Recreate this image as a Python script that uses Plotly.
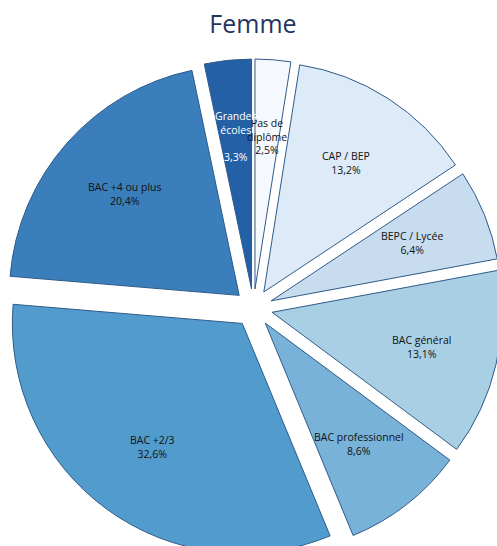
import math
import plotly.graph_objects as go

categories = ["Pas de diplôme", "CAP / BEP", "BEPC / Lycée", "BAC général",
              "BAC professionnel", "BAC +2/3", "BAC +4 ou plus", "Grandes écoles"]
display_labels = ["Pas de<br>diplôme", "CAP / BEP", "BEPC / Lycée", "BAC général",
                  "BAC professionnel", "BAC +2/3", "BAC +4 ou plus", "Grandes<br>écoles<br> "]
values = [2.5, 13.2, 6.4, 13.1, 8.6, 32.6, 20.4, 3.3]

colors = ["#f5f9fe", "#ddeaf7", "#c8dcef", "#a9cfe5", "#78b2d8", "#529ccd", "#3a7ebc", "#2460a5"]
text_colors = ["#111111"] * 7 + ["#ffffff"]

W, H = 510, 560
cx, cy, half = 253.5, 308, 249
PULL = 0.083
R = half / (1 + PULL)
LABEL_R = R * PULL + 0.665 * R

fig = go.Figure(go.Pie(
    labels=categories,
    values=values,
    textinfo="none",
    sort=False,
    direction="clockwise",
    rotation=0,
    pull=[PULL] * len(values),
    marker=dict(colors=colors, line=dict(color="#2f5b8a", width=1)),
    domain=dict(x=[(cx - half) / W, (cx + half) / W],
                y=[(H - cy - half) / H, (H - cy + half) / H]),
    showlegend=False,
))

# labels placed at the middle of each slice (angles derived from the values)
total = sum(values)
cum = 0.0
for lab, v, tc in zip(display_labels, values, text_colors):
    mid = (cum + v / 2) / total * 2 * math.pi
    cum += v
    px = cx + LABEL_R * math.sin(mid)
    py = cy - LABEL_R * math.cos(mid)
    fig.add_annotation(
        x=px / W, y=1 - py / H, xref="paper", yref="paper",
        text=f"{lab}<br>{v:.1f}%".replace(".", ","),
        showarrow=False, align="center", xanchor="center", yanchor="middle",
        font=dict(family="Open Sans", size=10.5, color=tc),
    )

fig.update_layout(
    width=W, height=H,
    margin=dict(l=0, r=0, t=0, b=0),
    paper_bgcolor="white",
    separators=", ",
    title=dict(text="Femme", x=253 / W, xanchor="center", y=1 - 24 / H, yanchor="middle",
               yref="container", font=dict(family="Open Sans", size=25, color="#1f3560")),
)

fig.write_html("out.html", config={"displayModeBar": False},
               post_script="document.body.style.margin='0';document.body.style.overflow='hidden';document.documentElement.style.overflow='hidden';")
